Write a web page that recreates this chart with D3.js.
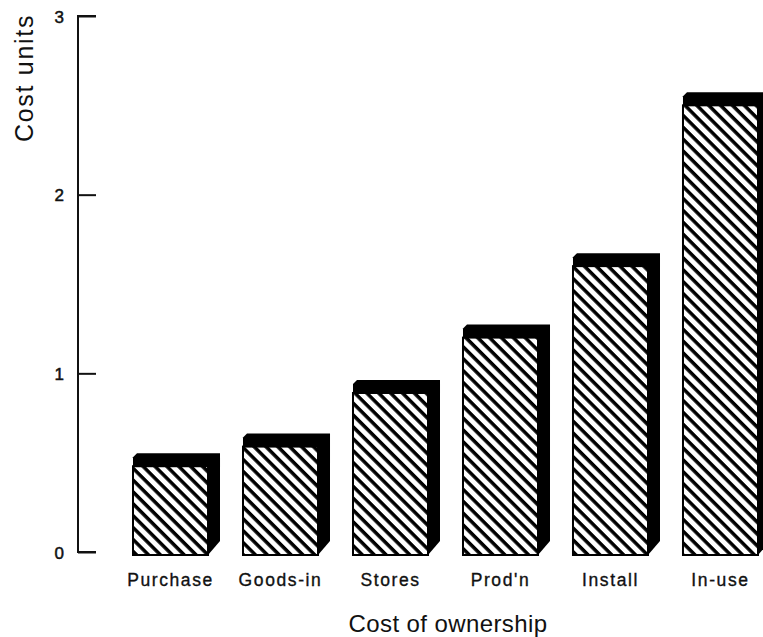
<!DOCTYPE html>
<html>
<head>
<meta charset="utf-8">
<script src="https://cdn.jsdelivr.net/npm/d3@7"></script>
<style>
  html, body { margin: 0; padding: 0; background: #fff; }
  svg { display: block; font-family: "Liberation Sans", Arial, Helvetica, sans-serif; }
</style>
</head>
<body>
<script>
const categories = ["Purchase", "Goods-in", "Stores", "Prod'n", "Install", "In-use"];
const values = [0.48, 0.59, 0.89, 1.2, 1.6, 2.5];
const yTicks = [0, 1, 2, 3];
const yLabel = "Cost units";
const xLabel = "Cost of ownership";

const W = 763, H = 637;
const svg = d3.select("body").append("svg").attr("width", W).attr("height", H);

const y = d3.scaleLinear().domain([0, 3]).range([552, 16]);
const x = d3.scaleBand().domain(categories).range([133, 758]).paddingInner(0.318).paddingOuter(0);
const bw = x.bandwidth();
const depthX = 12, depthY = 13;
const base = y(0) + 3;

// hatch pattern
const defs = svg.append("defs");
const pat = defs.append("pattern")
  .attr("id", "hatch")
  .attr("patternUnits", "userSpaceOnUse")
  .attr("width", 20).attr("height", 8.4)
  .attr("patternTransform", "rotate(45)");
pat.append("rect").attr("width", 20).attr("height", 8.4).attr("fill", "#fff");
pat.append("rect").attr("y", 0).attr("width", 20).attr("height", 3.5).attr("fill", "#000");

// 3D bars
const g = svg.append("g");
const bars = g.selectAll("g.bar").data(categories.map((c, i) => ({c, v: values[i]})))
  .enter().append("g").attr("class", "bar");

bars.append("path")
  .attr("fill", "#000")
  .attr("d", d => {
    const L = x(d.c), R = L + bw, T = y(d.v);
    return d3.line()([
      [L, T], [L, T - 9], [L + 4, T - depthY], [R + depthX, T - depthY],
      [R + depthX, base - 14], [R, base]
    ]) + "Z";
  });

bars.append("rect")
  .attr("x", d => x(d.c))
  .attr("y", d => y(d.v))
  .attr("width", bw)
  .attr("height", d => base - y(d.v))
  .attr("fill", "url(#hatch)")
  .attr("stroke", "#000")
  .attr("stroke-width", 2);

// y axis
const yAxis = d3.axisRight(y).tickValues(yTicks).tickSize(18).tickFormat("");
const ax = svg.append("g").attr("transform", "translate(78,0)").call(yAxis);
ax.select(".domain").attr("d", `M18,${y(3)}H0V${y(0)}H18`).attr("stroke-width", 2).attr("stroke", "#111");
ax.selectAll(".tick line").attr("stroke-width", 2).attr("stroke", "#111");

svg.append("g").selectAll("text").data(yTicks).enter().append("text")
  .attr("x", 64).attr("y", d => y(d))
  .attr("dy", "0.4em")
  .attr("text-anchor", "end")
  .attr("font-size", 17)
  .attr("fill", "#111")
  .attr("stroke", "#111")
  .attr("stroke-width", 0.5)
  .text(d => d);

// category labels
svg.append("g").selectAll("text").data(categories).enter().append("text")
  .attr("x", d => x(d) + bw / 2)
  .attr("y", 586)
  .attr("text-anchor", "middle")
  .attr("font-size", 17.5)
  .attr("letter-spacing", "1.6px")
  .attr("fill", "#111")
  .attr("stroke", "#111")
  .attr("stroke-width", 0.35)
  .text(d => d);

// axis titles
svg.append("text")
  .attr("x", 448).attr("y", 632)
  .attr("text-anchor", "middle")
  .attr("font-size", 24)
  .attr("letter-spacing", "0.4px")
  .attr("fill", "#111")
  .text(xLabel);

svg.append("text")
  .attr("transform", "translate(33,78) rotate(-90)")
  .attr("text-anchor", "middle")
  .attr("font-size", 25)
  .attr("letter-spacing", "1.7px")
  .attr("fill", "#111")
  .text(yLabel);
</script>
</body>
</html>
